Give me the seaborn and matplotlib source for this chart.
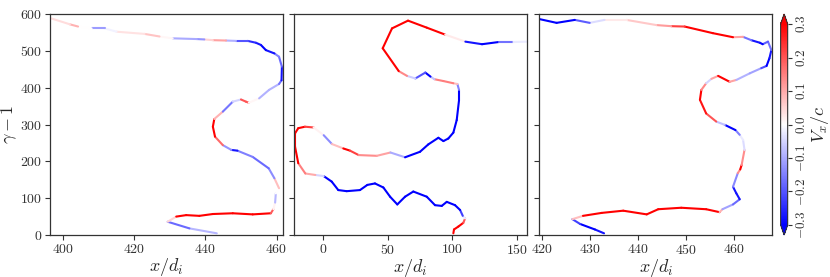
import numpy as np
import matplotlib
matplotlib.use("Agg")
import matplotlib.pyplot as plt
import seaborn as sns
from matplotlib.collections import LineCollection
from matplotlib.colors import Normalize
from matplotlib.cm import ScalarMappable

# trajectory 1 : x/d_i, gamma-1, Vx/c
x1 = [443.2, 435.5, 429.4, 431.8, 434.6, 438.3, 442.1, 447.7, 453.3, 458.4, 459.1, 459.6, 459.8,
      460.7, 459.4, 457.8, 453.3, 449.0, 447.3, 444.9, 442.7, 442.1, 442.5, 444.9, 447.7, 450.0,
      451.4, 452.2, 455.1, 457.9, 460.7, 461.4, 461.5, 460.7, 459.4, 457.0, 455.6, 454.2, 451.9,
      448.6, 445.8, 442.1, 439.7, 437.6, 430.8, 427.1, 422.9, 415.0, 411.7, 408.0, 404.2, 401.9, 396.7]
g1 = [4.6, 18, 36, 50, 54, 52, 57, 59, 56, 59, 70, 88, 113,
      127, 154, 181, 212, 229, 231, 244, 267, 294, 315, 335, 362, 368,
      362, 359, 371, 394, 410, 420, 457, 484, 493, 502, 516, 522, 527,
      527, 528, 529, 531, 532, 534, 539, 546, 552, 561, 561, 566, 572, 588]
v1 = [-0.02, -0.15, -0.2, 0.3, 0.3, 0.3, 0.3, 0.3, 0.3, 0.3, 0.08, -0.05, -0.12,
      0.12, 0.03, -0.3, -0.05, -0.25, -0.3, 0.05, 0.3, 0.3, 0.3, -0.12, -0.2, 0.1,
      0.3, 0.1, -0.08, -0.1, -0.08, -0.25, -0.3, -0.05, -0.25, -0.3, -0.3, -0.25, -0.25,
      -0.15, -0.03, 0.25, -0.15, -0.1, -0.1, 0.12, 0.02, 0.05, -0.08, -0.15, 0.15, 0.03, 0.05]

# trajectory 2
x2 = [100.7, 101.2, 104.6, 108.4, 109.8, 108.0, 105.9, 102.0, 95.6, 91.7, 86.5, 80.1, 69.7,
      63.3, 57.3, 51.7, 46.5, 40.0, 34.1, 28.4, 18.1, 11.6, 6.5, 0.3, -6.2, -13.9, -19.4,
      -21.9, -21.9, -19.4, -14.2, -7.5, 0.3, 6.7, 15.5, 20.7, 27.4, 41.4, 52.0, 63.3, 74.9,
      81.3, 89.1, 93.0, 96.8, 100.7, 103.3, 105.1, 105.1, 103.8, 100.7, 93.0, 86.0, 83.0,
      79.0, 71.3, 64.8, 58.4, 46.0, 53.2, 65.6, 80.1, 94.4, 110.0, 122.9, 135.9, 147.2, 158.6]
g2 = [4.6, 15, 23, 33, 45, 52, 68, 81, 90, 79, 81, 104, 118,
      104, 83, 104, 129, 140, 136, 122, 119, 122, 145, 160, 163, 167, 195,
      240, 276, 290, 294, 292, 271, 247, 235, 229, 217, 215, 224, 211, 226,
      246, 264, 255, 262, 278, 312, 366, 394, 410, 412, 418, 423, 430,
      441, 425, 432, 445, 507, 561, 582, 563, 544, 525, 518, 524, 524, 525]
v2 = [0.3, 0.3, 0.3, 0.3, 0.1, -0.15, -0.3, -0.3, -0.3, -0.3, -0.3, -0.3, -0.3,
      -0.3, -0.3, -0.3, -0.3, -0.3, -0.3, -0.3, -0.3, -0.3, -0.3, -0.3, 0.2, 0.0, 0.3,
      0.3, 0.3, 0.3, 0.3, 0.15, -0.12, -0.15, 0.3, 0.3, 0.15, 0.12, 0.1, -0.3, -0.3,
      -0.3, -0.3, -0.3, -0.3, -0.3, -0.3, -0.3, -0.3, 0.0, 0.15, 0.15, 0.15, -0.3,
      -0.3, -0.1, -0.02, 0.3, 0.3, 0.3, 0.3, 0.3, 0.3, -0.25, -0.3, -0.3, -0.03, -0.02]

# trajectory 3
x3 = [432.9, 431.0, 427.9, 426.3, 428.5, 432.4, 436.9, 441.8, 444.2, 449.0, 454.2, 457.0,
      457.6, 459.8, 461.2, 460.5, 459.8, 460.8, 461.3, 461.6, 462.2, 461.9, 461.2, 460.3,
      458.1, 456.3, 454.2, 452.9, 453.2, 454.2, 455.3, 456.7, 459.1, 460.5, 463.3, 465.7,
      466.8, 467.4, 467.8, 467.1, 466.0, 465.4, 463.6, 461.9, 459.8, 455.6, 449.7, 446.9,
      443.8, 437.6, 433.0, 429.9, 426.8, 423.0, 419.5]
g3 = [4.6, 15, 30, 43, 52, 60, 66, 56, 70, 74, 70, 62,
      70, 83, 97, 113, 131, 168, 178, 190, 231, 258, 272, 285,
      299, 308, 330, 367, 394, 412, 424, 432, 416, 421, 439, 453,
      459, 480, 502, 525, 518, 522, 529, 538, 537, 548, 566, 567,
      570, 584, 584, 576, 584, 576, 586]
v3 = [-0.25, -0.3, -0.3, -0.15, 0.3, 0.3, 0.3, 0.3, 0.3, 0.3, 0.3, 0.3,
      -0.12, -0.1, -0.25, -0.3, -0.25, -0.03, 0.3, 0.3, -0.03, -0.05, 0.0, -0.3,
      -0.3, 0.15, 0.25, 0.3, 0.3, -0.02, -0.08, 0.3, 0.3, -0.08, -0.1, -0.12,
      -0.3, -0.3, -0.25, -0.08, -0.3, -0.3, -0.25, -0.08, 0.3, 0.3, 0.3, 0.15,
      0.08, 0.05, 0.0, -0.08, -0.3, -0.3, -0.3]

xlims = [(396.3, 461.8), (-22.7, 157.7), (419.4, 468.0)]
xticks = [[400, 420, 440, 460], [0, 50, 100, 150], [420, 430, 440, 450, 460]]

sns.set_style("ticks")
plt.rcParams["font.family"] = "serif"
plt.rcParams["font.serif"] = ["cmr10", "DejaVu Serif"]
plt.rcParams["mathtext.fontset"] = "cm"
plt.rcParams["axes.formatter.use_mathtext"] = True
plt.rcParams["axes.edgecolor"] = "#333333"
plt.rcParams["xtick.color"] = "#333333"
plt.rcParams["ytick.color"] = "#333333"

norm = Normalize(vmin=-0.3, vmax=0.3)
cmap = plt.get_cmap("bwr")

fig = plt.figure(figsize=(8.3, 2.77), dpi=100)
lefts = [0.0602, 0.3542, 0.6498]
axes = [fig.add_axes([l, 0.1516, 0.2807, 0.7978]) for l in lefts]
cax = fig.add_axes([0.9405, 0.1516, 0.0085, 0.7978])

trajs = [(x1, g1, v1), (x2, g2, v2), (x3, g3, v3)]
for i, (ax, (xs, gs, vs)) in enumerate(zip(axes, trajs)):
    pts = np.column_stack([xs, gs]).reshape(-1, 1, 2)
    segs = np.concatenate([pts[:-1], pts[1:]], axis=1)
    vals = np.asarray(vs)
    lc = LineCollection(segs, cmap=cmap, norm=norm, linewidths=1.5, capstyle="round")
    lc.set_array((vals[:-1] + vals[1:]) / 2)
    ax.add_collection(lc)
    ax.set_xlim(*xlims[i])
    ax.set_ylim(0, 600)
    ax.set_xticks(xticks[i])
    ax.set_yticks(range(0, 601, 100))
    ax.tick_params(labelsize=10, length=3.5, width=0.8, pad=2)
    ax.set_xlabel(r"$x/d_i$", fontsize=13, labelpad=0)
    if i == 0:
        ax.set_ylabel(r"$\gamma-1$", fontsize=13, labelpad=1)
    else:
        ax.set_yticklabels([])
    for s in ax.spines.values():
        s.set_linewidth(0.9)

sm = ScalarMappable(norm=norm, cmap=cmap)
cb = fig.colorbar(sm, cax=cax, extend="both")
cb.set_ticks([-0.3, -0.2, -0.1, 0.0, 0.1, 0.2, 0.3])
cb.ax.tick_params(labelsize=9.5, labelrotation=90, length=3, width=0.8, pad=2)
for t in cb.ax.get_yticklabels():
    t.set_va("center")
cb.set_label(r"$V_x/c$", fontsize=13, labelpad=1)
cb.outline.set_linewidth(0.8)

fig.savefig("out.png", dpi=100)
